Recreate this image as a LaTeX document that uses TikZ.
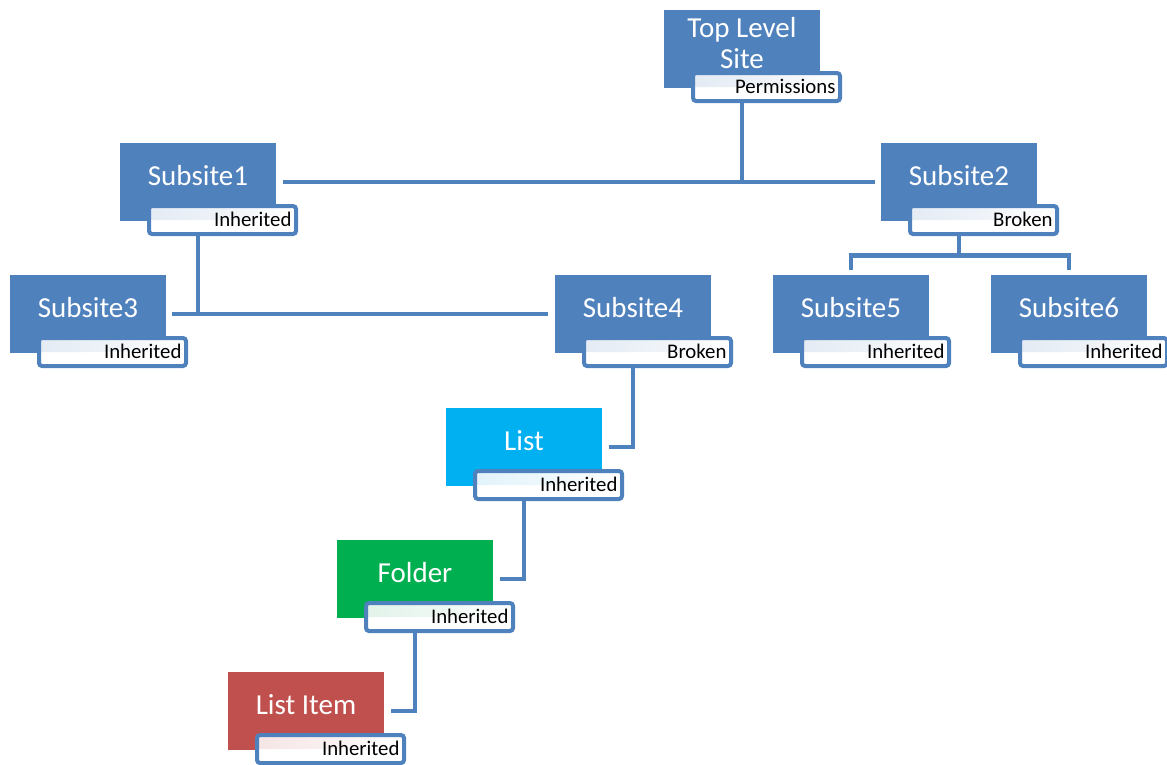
\documentclass[tikz,border=0pt]{standalone}
\usepackage{fontspec}
\setmainfont{Carlito}
\usetikzlibrary{calc}
\definecolor{lblue}{HTML}{4F81BD}
\definecolor{cyanb}{HTML}{00B0F0}
\definecolor{greenb}{HTML}{00B050}
\definecolor{redb}{HTML}{C0504D}
\definecolor{tblue}{HTML}{E4EBF4}
\definecolor{tcyan}{HTML}{E2F3FB}
\definecolor{tgreen}{HTML}{E2F3EA}
\definecolor{tred}{HTML}{F6E6E6}
\tikzset{
  mainbox/.style={anchor=north west, minimum width=156pt, minimum height=78pt, inner sep=0pt, outer sep=0pt},
  maintext/.style={text=white, align=center, font=\fontsize{29}{31}\selectfont, inner sep=0pt},
  lblbox/.style={draw=lblue, line width=4pt, rounded corners=3pt, fill=white,
    minimum width=147pt, minimum height=28pt, text width=138pt, inner xsep=4.5pt, inner ysep=0pt,
    align=right, text height=14.5pt, text depth=1.5pt, font=\fontsize{20.8}{21}\selectfont, text=black},
  conn/.style={draw=lblue, line width=4.5pt}
}
\newcommand\permbox[7]{%
  \node[mainbox, fill=#4] (#1) at (#2,#3) {};
  \node[maintext] (#1-t) at ($(#1.north)+(0,33)$) {#5};
  \node[lblbox, path picture={\shade[left color=#7, right color=white, middle color=#7!60!white] (path picture bounding box.north west) rectangle (path picture bounding box.east);}] (#1-l) at ($(#1.north west)+(102.5,77)$) {#6};
}
\begin{document}
\begin{tikzpicture}[x=1pt, y=-1pt]
\useasboundingbox (0,0) rectangle (1167,764);
\permbox{top}{664}{10}{lblue}{Top Level\\Site}{Permissions}{tblue}
\permbox{s1}{120}{143}{lblue}{Subsite1}{Inherited}{tblue}
\permbox{s2}{881}{143}{lblue}{Subsite2}{Broken}{tblue}
\permbox{s3}{10}{275}{lblue}{Subsite3}{Inherited}{tblue}
\permbox{s4}{555}{275}{lblue}{Subsite4}{Broken}{tblue}
\permbox{s5}{773}{275}{lblue}{Subsite5}{Inherited}{tblue}
\permbox{s6}{991}{275}{lblue}{Subsite6}{Inherited}{tblue}
\permbox{list}{446}{408}{cyanb}{List}{Inherited}{tcyan}
\permbox{folder}{337}{540}{greenb}{Folder}{Inherited}{tgreen}
\permbox{item}{228}{672}{redb}{List Item}{Inherited}{tred}
% connectors
\draw[conn] (top-l.south -| top.center) -- (top.center |- s1.east);
\draw[conn] ($(s1.east)+(7,0)$) -- ($(s2.west)+(-6,0)$);
\draw[conn] (s1-l.south -| s1.center) -- (s1.center |- s3.east);
\draw[conn] ($(s3.east)+(6,0)$) -- ($(s4.west)+(-7,0)$);
\coordinate (bus) at ($(s2-l.south)!0.5!(s5.north)$);
\draw[conn] (s2-l.south -| s2.center) -- (bus -| s2.center);
\draw[conn] ($(s5.north)+(0,-5)$) -- (bus -| s5.center) -- (bus -| s6.center) -- ($(s6.north)+(0,-5)$);
\draw[conn] (s4-l.south -| s4.center) |- ($(list.east)+(7,0)$);
\draw[conn] (list-l.south -| list.center) |- ($(folder.east)+(7,0)$);
\draw[conn] (folder-l.south -| folder.center) |- ($(item.east)+(7,0)$);
\end{tikzpicture}
\end{document}
